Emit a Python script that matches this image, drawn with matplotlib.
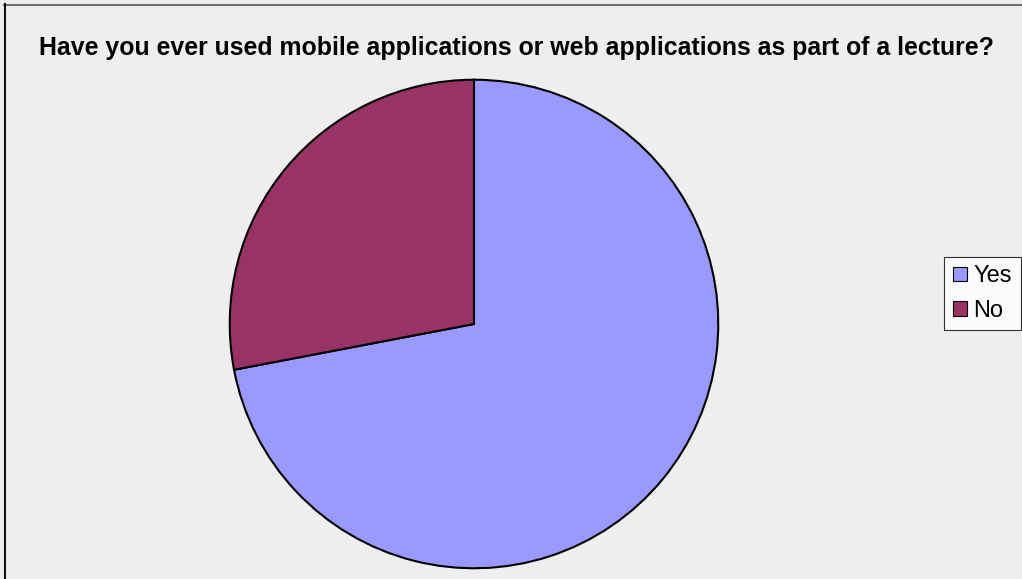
import matplotlib
matplotlib.use("Agg")
import matplotlib.pyplot as plt
from matplotlib.lines import Line2D

labels = ["Yes", "No"]
values = [72, 28]
colors = ["#9999FF", "#993366"]
title = "Have you ever used mobile applications or web applications as part of a lecture?"

W, H = 1022, 579
fig = plt.figure(figsize=(W / 100, H / 100), dpi=100)
fig.patch.set_facecolor("#EEEEEE")

# frame lines (top and left)
fig.add_artist(Line2D([4 / W, 1], [1 - 4.5 / H, 1 - 4.5 / H], color="#555555", lw=1.2, transform=fig.transFigure))
fig.add_artist(Line2D([4.5 / W, 4.5 / W], [0, 1 - 4 / H], color="#111111", lw=1.5, transform=fig.transFigure))

ax = fig.add_axes([229 / W, 10 / H, 490 / W, 490 / H])
ax.set_facecolor("none")
wedges, _ = ax.pie(values, colors=colors, startangle=90, counterclock=False,
                   wedgeprops=dict(edgecolor="black", linewidth=1.5))
ax.set_xlim(-1.003, 1.003)
ax.set_ylim(-1.003, 1.003)
ax.set_aspect("equal")
ax.axis("off")

fig.text(516.5 / W, 1 - 48 / H, title, ha="center", va="center",
         fontsize=17.9, fontweight="bold", family="Liberation Sans")

leg = fig.legend(wedges, labels, loc="center", bbox_to_anchor=(982.5 / W, 1 - 293.5 / H),
                 frameon=True, fancybox=False, handlelength=0.6, handleheight=0.55,
                 handletextpad=0.25, borderpad=0.37, labelspacing=0.53, borderaxespad=0,
                 prop=dict(family="Liberation Sans", size=17))
leg.get_frame().set_edgecolor("black")
leg.get_frame().set_linewidth(0.8)
leg.get_frame().set_facecolor("white")
for h in leg.legend_handles:
    h.set_linewidth(0.8)
    h.set_edgecolor("black")

fig.savefig("out.png", dpi=100, facecolor=fig.get_facecolor())
